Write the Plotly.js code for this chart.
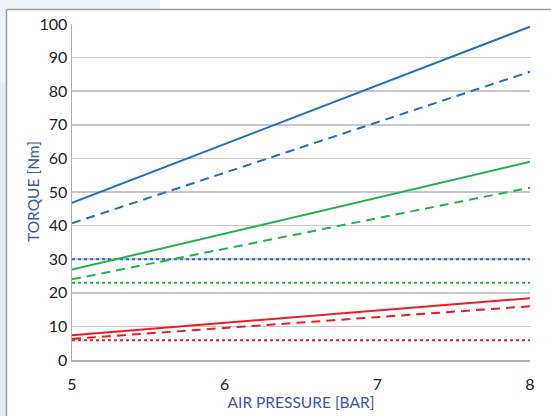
<!DOCTYPE html>
<html>
<head>
<meta charset="utf-8">
<script src="https://cdn.plot.ly/plotly-3.0.1.min.js"></script>
<style>html,body{margin:0;padding:0;background:#fff;}#chart{width:551px;height:416px;}</style>
</head>
<body>
<div id="chart"></div>
<script>
const pressure = [5, 8];
const blueSolid = [46.8, 99.2];
const blueDashed = [40.7, 85.8];
const blueDotted = [30, 30];
const greenSolid = [26.9, 59.0];
const greenDashed = [24.0, 51.3];
const greenDotted = [23, 23];
const redSolid = [7.4, 18.4];
const redDashed = [6.3, 16.0];
const redDotted = [5.9, 5.9];
const yTicks = [0, 10, 20, 30, 40, 50, 60, 70, 80, 90, 100];
const xTicks = [5, 6, 7, 8];

const BLUE = '#1f6fc0', GREEN = '#22b24c', RED = '#ee1c25';
function tr(y, color, dash) {
  return {x: pressure, y: y, mode: 'lines', type: 'scatter', hoverinfo: 'skip',
          line: {color: color, width: 2, dash: dash}};
}
const data = [
  tr(blueDotted, BLUE, 'dot'),
  tr(greenDotted, GREEN, 'dot'),
  tr(redDotted, RED, 'dot'),
  tr(blueSolid, BLUE, 'solid'),
  tr(blueDashed, BLUE, '9px,6px'),
  tr(greenSolid, GREEN, 'solid'),
  tr(greenDashed, GREEN, '9px,6px'),
  tr(redSolid, RED, 'solid'),
  tr(redDashed, RED, '9px,6px')
];

// pixel -> paper helpers (plot area: x 72..530, y 24..360)
const W = 458, H = 336;
const px = p => (p - 72) / W;
const py = p => (360 - p) / H;

const layout = {
  width: 551, height: 416,
  margin: {l: 72, r: 21, t: 24, b: 56},
  paper_bgcolor: '#ffffff',
  plot_bgcolor: 'rgba(0,0,0,0)',
  showlegend: false,
  font: {family: 'Lato, "Open Sans", sans-serif', color: '#222'},
  xaxis: {
    range: [5, 8], tickvals: xTicks, ticktext: xTicks.map(String),
    showgrid: false, zeroline: false,
    showline: true, linecolor: '#b0b0b0', linewidth: 1.5,
    ticks: 'outside', ticklen: 9, tickcolor: 'rgba(0,0,0,0)',
    tickfont: {size: 16, color: '#222'},
    title: {text: 'AIR PRESSURE [BAR]', font: {size: 15.5, color: '#3a55a8'}, standoff: 1},
    fixedrange: true
  },
  yaxis: {
    range: [0, 100], tickvals: yTicks, ticktext: yTicks.map(String),
    showgrid: true, gridcolor: '#c8c8c8', gridwidth: 1.5, zeroline: false,
    showline: true, linecolor: '#b0b0b0', linewidth: 1.5,
    ticks: '', tickfont: {size: 16, color: '#222'},
    fixedrange: true
  },
  annotations: [
    {text: 'TORQUE [Nm]', xref: 'paper', yref: 'paper', x: px(33), y: py(192),
     xanchor: 'center', yanchor: 'middle', textangle: -90, showarrow: false,
     font: {size: 15.5, color: '#3a55a8', family: 'Lato, "Open Sans", sans-serif'}}
  ],
  shapes: [
    {type: 'rect', xref: 'paper', yref: 'paper', layer: 'below',
     x0: px(0), x1: px(6), y0: py(83), y1: py(416), fillcolor: '#e6eaf2', line: {width: 0}},
    {type: 'rect', xref: 'paper', yref: 'paper', layer: 'below',
     x0: px(0), x1: px(6), y0: py(0), y1: py(83), fillcolor: '#edf3fb', line: {width: 0}},
    {type: 'rect', xref: 'paper', yref: 'paper', layer: 'below',
     x0: px(6), x1: px(160), y0: py(0), y1: py(9), fillcolor: '#edf3fb', line: {width: 0}},
    {type: 'line', xref: 'paper', yref: 'paper', layer: 'below',
     x0: px(6.5), x1: px(551), y0: py(9.5), y1: py(9.5), line: {color: '#9a9a9a', width: 1.5}},
    {type: 'line', xref: 'paper', yref: 'paper', layer: 'below',
     x0: px(6.5), x1: px(6.5), y0: py(9.5), y1: py(416), line: {color: '#9a9a9a', width: 1.5}}
  ]
};
Plotly.newPlot('chart', data, layout, {displayModeBar: false, staticPlot: true});
</script>
</body>
</html>
